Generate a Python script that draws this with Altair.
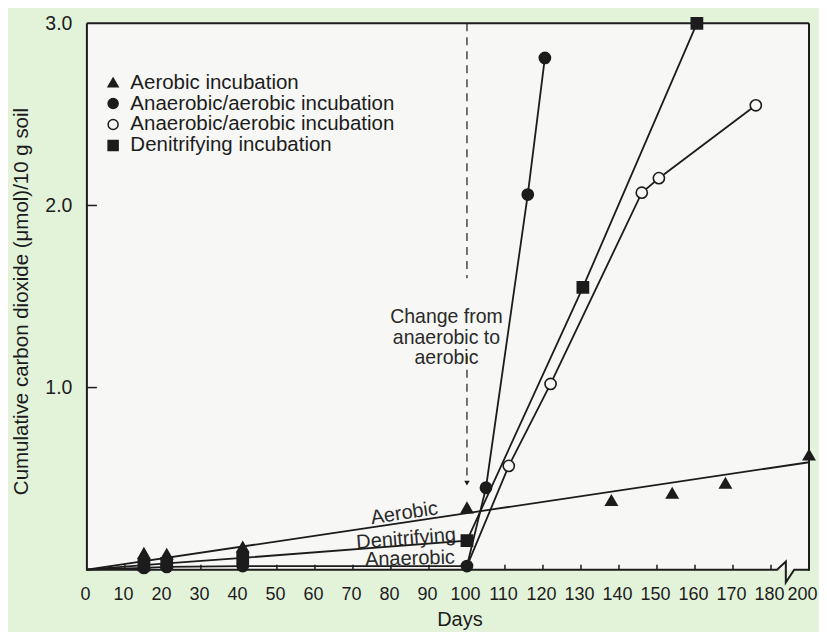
import altair as alt
import pandas as pd

# ---------------- data ----------------
# Aerobic incubation (filled triangles)
aer_days = [15, 21, 41, 100, 138, 154, 168, 200]
aer_vals = [0.09, 0.085, 0.125, 0.34, 0.38, 0.42, 0.475, 0.63]
# fitted aerobic line
aer_fit_days = [0, 200]
aer_fit_vals = [0, 0.59]

# Anaerobic phase (filled circles) up to day 100
anaer_days = [15, 21, 41, 100]
anaer_vals = [0.01, 0.015, 0.02, 0.02]

# Anaerobic/aerobic incubation after switch, filled circles
filled_days = [105, 116, 120.5]
filled_vals = [0.45, 2.06, 2.81]

# Anaerobic/aerobic incubation after switch, open circles
open_days = [111, 122, 146, 150.5, 176]
open_vals = [0.57, 1.02, 2.07, 2.15, 2.55]

# Denitrifying incubation (filled squares)
den_days = [15, 21, 41, 100, 130.5, 160.5]
den_vals = [0.025, 0.035, 0.065, 0.16, 1.55, 3.0]

series_keys = ["Aerobic incubation", "Anaerobic/aerobic incubation",
               "Anaerobic/aerobic incubation ", "Denitrifying incubation"]

x_tick_days = [0, 10, 20, 30, 40, 50, 60, 70, 80, 90, 100,
               110, 120, 130, 140, 150, 160, 170, 180, 200]
y_tick_vals = [1.0, 2.0, 3.0]

switch_day = 100
line_labels = ["Aerobic", "Denitrifying", "Anaerobic"]
line_label_days = [83.5, 84, 85]
line_label_vals = [0.31, 0.17, 0.06]

annotation = "Change from\nanaerobic to\naerobic"
annotation_day = 94.6
annotation_val = 1.39

# axis break glyph (axis units) between 180 and 200
break_x = [0, 181.6, 183.9, 183.9, 186.1, 190]
break_y = [0, 0, 0.045, -0.07, 0, 0]


def pos(d):
    # axis is broken: 180 -> 200 drawn as one 10-day interval
    return d if d <= 180 else 180 + (d - 180) / 2


INK = "#1c1c1c"
PLOT_BG = "#f7f7f5"
PAGE_BG = "#e3f3da"
FONT = "Liberation Sans"
W, H = 723, 547

xs = alt.Scale(domain=[0, 190], nice=False, zero=False)
ys = alt.Scale(domain=[0, 3], nice=False, zero=False)

x_axis = alt.Axis(values=[pos(d) for d in x_tick_days],
                  labelExpr="datum.value == 190 ? '200' : format(datum.value, 'd')",
                  labelOffset={"condition": {"test": "datum.value == 190", "value": -7}, "value": -2},
                  domain=False, ticks=False, grid=False,
                  labelFont=FONT, labelFontSize=18, labelColor=INK, labelPadding=16,
                  labelFlush=False, labelOverlap=False,
                  titleFont=FONT, titleFontSize=20, titleFontWeight="normal", titleColor=INK,
                  titleX=373, titleY=56, titleBaseline="alphabetic")
y_axis = alt.Axis(values=y_tick_vals, format=".1f",
                  domain=False, ticks=False, grid=False,
                  labelFont=FONT, labelFontSize=19.5, labelColor=INK, labelPadding=15,
                  labelFlush=False,
                  titleFont=FONT, titleFontSize=20.5, titleFontWeight="normal", titleColor=INK,
                  titleAngle=270, titleX=-65, titleY=278, titleBaseline="middle")
X_TITLE = "Days"
Y_TITLE = "Cumulative carbon dioxide (\u03bcmol)/10 g soil"


def X(field="x"):
    return alt.X(f"{field}:Q", scale=xs, axis=x_axis, title=X_TITLE)


def Y(field="y"):
    return alt.Y(f"{field}:Q", scale=ys, axis=y_axis, title=Y_TITLE)


# ---------------- tables ----------------
pts = []
for d, v in zip(aer_days, aer_vals):
    pts.append({"x": pos(d), "y": v, "series": series_keys[0]})
for d, v in zip(anaer_days + filled_days, anaer_vals + filled_vals):
    pts.append({"x": pos(d), "y": v, "series": series_keys[1]})
for d, v in zip(open_days, open_vals):
    pts.append({"x": pos(d), "y": v, "series": series_keys[2]})
for d, v in zip(den_days, den_vals):
    pts.append({"x": pos(d), "y": v, "series": series_keys[3]})
pts = pd.DataFrame(pts)

lines = []
def add_line(name, days, vals):
    for i, (d, v) in enumerate(zip(days, vals)):
        lines.append({"x": pos(d), "y": v, "line": name, "o": i})

add_line("aer", aer_fit_days, aer_fit_vals)
add_line("anaer", [0] + anaer_days, [0] + anaer_vals)
add_line("filled", [anaer_days[-1]] + filled_days, [anaer_vals[-1]] + filled_vals)
add_line("open", [anaer_days[-1]] + open_days, [anaer_vals[-1]] + open_vals)
add_line("den", [0] + den_days, [0] + den_vals)
lines = pd.DataFrame(lines)

# ---------------- layers ----------------
frame = alt.Chart(pd.DataFrame({"k": [0]})).mark_rule(color=INK, strokeWidth=2)
left = frame.encode(x=alt.value(0), y=alt.value(0), y2=alt.value(H + 1))
top = frame.encode(x=alt.value(0), x2=alt.value(W), y=alt.value(0))
right = frame.encode(x=alt.value(W), y=alt.value(0), y2=alt.value(H + 1))

bottom = alt.Chart(pd.DataFrame({"x": break_x, "y": break_y, "o": range(len(break_x))})).mark_line(
    color=INK, strokeWidth=2, clip=False
).encode(x=X(), y=Y(), order="o:Q")

xticks = alt.Chart(pd.DataFrame({"x": [pos(d) for d in x_tick_days if 0 < d <= 180]})).mark_rule(
    color=INK, strokeWidth=1.5
).encode(x=X(), y=alt.value(H), y2=alt.value(H - 5))

yticks = alt.Chart(pd.DataFrame({"y": [v for v in y_tick_vals if v < 3]})).mark_rule(
    color=INK, strokeWidth=1.5
).encode(y=Y(), x=alt.value(0), x2=alt.value(10))

dash_df = pd.DataFrame({"x": [switch_day, switch_day], "y": [3.0, 1.175], "y2": [1.60, 0.49]})
dashed = alt.Chart(dash_df).mark_rule(color=INK, strokeWidth=1.2, strokeDash=[8, 6]).encode(
    x=X(), y=Y(), y2="y2:Q",
)
arrow = alt.Chart(pd.DataFrame({"x": [switch_day], "y": [0.475]})).mark_point(
    shape="triangle-down", filled=True, color=INK, size=30, opacity=1
).encode(x=X(), y=Y())

note = alt.Chart(pd.DataFrame({"x": [annotation_day], "y": [annotation_val], "t": [annotation]})).mark_text(
    font=FONT, fontSize=19.5, color="#2a2a2a", align="center", baseline="middle",
    lineBreak="\n", lineHeight=21
).encode(x=X(), y=Y(), text="t:N")

data_lines = alt.Chart(lines).mark_line(color=INK, strokeWidth=1.8).encode(
    x=X(), y=Y(), detail="line:N", order="o:Q",
)

legend = alt.Legend(
    title=None, orient="none", legendX=16, legendY=49, padding=0,
    labelFont=FONT, labelFontSize=20.5, labelColor=INK, labelOffset=7, labelLimit=0,
    symbolSize=100, symbolStrokeWidth=1.5,
    rowPadding=0,
)
points = alt.Chart(pts).mark_point(filled=True, size=125, opacity=1, strokeWidth=1.6).encode(
    x=X(), y=Y(),
    shape=alt.Shape("series:N", scale=alt.Scale(domain=series_keys,
                    range=["triangle-up", "circle", "circle", "square"]), legend=legend),
    fill=alt.Fill("series:N", scale=alt.Scale(domain=series_keys,
                  range=[INK, INK, PLOT_BG, INK]), legend=legend),
    stroke=alt.Stroke("series:N", scale=alt.Scale(domain=series_keys,
                      range=[INK, INK, INK, INK]), legend=legend),
)

lab_layers = []
for txt, d, v, ang in zip(line_labels, line_label_days, line_label_vals, [351.5, 355.5, 358.5]):
    lab_layers.append(
        alt.Chart(pd.DataFrame({"x": [d], "y": [v], "t": [txt]})).mark_text(
            font=FONT, fontSize=20, color="#2a2a2a", align="center", baseline="middle", angle=ang
        ).encode(x=X(), y=Y(), text="t:N")
    )

chart = alt.layer(
    dashed, arrow, note, *lab_layers, data_lines, points, xticks, yticks, bottom, left, top, right
).properties(
    width=W, height=H,
    autosize=alt.AutoSizeParams(type="none"),
    padding={"left": 79, "top": 15, "right": 10, "bottom": 62},
).configure(
    background=PAGE_BG, font=FONT
).configure_view(
    fill=PLOT_BG, stroke=None
)

chart.save("out.html", embed_options={"renderer": "svg", "actions": False})
